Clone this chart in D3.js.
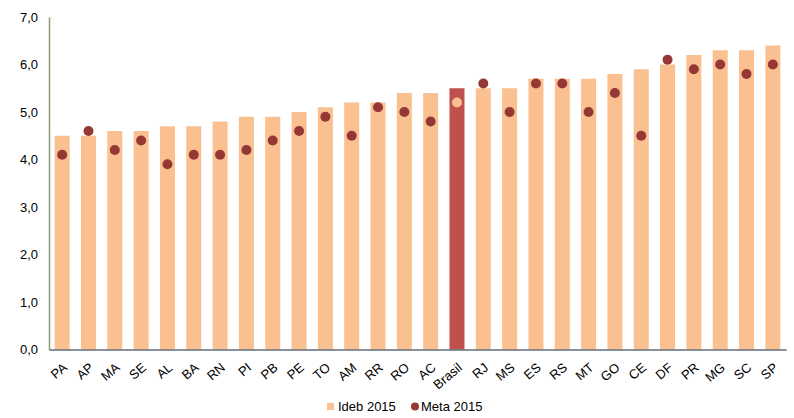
<!DOCTYPE html>
<html><head><meta charset="utf-8">
<script src="https://cdn.jsdelivr.net/npm/d3@7/dist/d3.min.js"></script>
<style>body{margin:0;background:#fff}svg{display:block;font-family:"Liberation Sans",Arial,sans-serif}</style>
</head><body>
<svg id="c" width="794" height="418"></svg>
<script>
const categories = ["PA","AP","MA","SE","AL","BA","RN","PI","PB","PE","TO","AM","RR","RO","AC","Brasil","RJ","MS","ES","RS","MT","GO","CE","DF","PR","MG","SC","SP"];
const ideb2015 = [4.5,4.5,4.6,4.6,4.7,4.7,4.8,4.9,4.9,5.0,5.1,5.2,5.2,5.4,5.4,5.5,5.5,5.5,5.7,5.7,5.7,5.8,5.9,6.0,6.2,6.3,6.3,6.4];
const meta2015 = [4.1,4.6,4.2,4.4,3.9,4.1,4.1,4.2,4.4,4.6,4.9,4.5,5.1,5.0,4.8,5.2,5.6,5.0,5.6,5.6,5.0,5.4,4.5,6.1,5.9,6.0,5.8,6.0];
const yTicks = [0,1,2,3,4,5,6,7];
const seriesNames = ["Ideb 2015","Meta 2015"];

const svg = d3.select("#c");
const mLeft = 49, mRight = 786, mTop = 17, mBottom = 349.5;
const x = d3.scaleBand().domain(categories).range([mLeft, mRight]).paddingInner(0.43).paddingOuter(0.215);
const y = d3.scaleLinear().domain([0,7]).range([mBottom, mTop]);
const fmt = d => d.toFixed(1).replace(".", ",");

// bars
svg.append("g").selectAll("rect").data(categories).join("rect")
  .attr("x", d => x(d)).attr("width", x.bandwidth())
  .attr("y", (d,i) => y(ideb2015[i])).attr("height", (d,i) => mBottom - y(ideb2015[i]))
  .attr("fill", d => d === "Brasil" ? "#C0504D" : "#FAC090");

// dots
svg.append("g").selectAll("circle").data(categories).join("circle")
  .attr("cx", d => x(d) + x.bandwidth()/2)
  .attr("cy", (d,i) => y(meta2015[i]))
  .attr("r", 5)
  .attr("fill", d => d === "Brasil" ? "#FAC090" : "#953735");

// y axis
const ya = svg.append("g").attr("transform", `translate(${mLeft},0)`)
  .call(d3.axisLeft(y).tickValues(yTicks).tickFormat(fmt).tickSize(0).tickPadding(11));
ya.select(".domain").attr("stroke", "#8E9B78").attr("stroke-width", 1.5);
ya.selectAll("text").attr("font-size", 13).attr("fill", "#000").attr("font-family", "Liberation Sans, Arial, sans-serif");

// x axis
const xa = svg.append("g").attr("transform", `translate(0,${mBottom})`)
  .call(d3.axisBottom(x).tickSize(0).tickPadding(0));
xa.select(".domain").attr("stroke", "#5F6B7A").attr("stroke-width", 1.5);
xa.selectAll(".tick text")
  .attr("transform", "translate(3,16) rotate(-40)")
  .attr("text-anchor", "end")
  .attr("dy", "0.35em")
  .attr("font-size", 13).attr("fill", "#000").attr("font-family", "Liberation Sans, Arial, sans-serif");

// legend
const lg = svg.append("g");
lg.append("rect").attr("x", 327).attr("y", 403).attr("width", 7).attr("height", 7).attr("fill", "#FAC090");
lg.append("text").attr("x", 338).attr("y", 411).attr("font-size", 13).text(seriesNames[0]);
lg.append("circle").attr("cx", 415).attr("cy", 406.5).attr("r", 4).attr("fill", "#953735");
lg.append("text").attr("x", 421).attr("y", 411).attr("font-size", 13).text(seriesNames[1]);
</script>
</body></html>
